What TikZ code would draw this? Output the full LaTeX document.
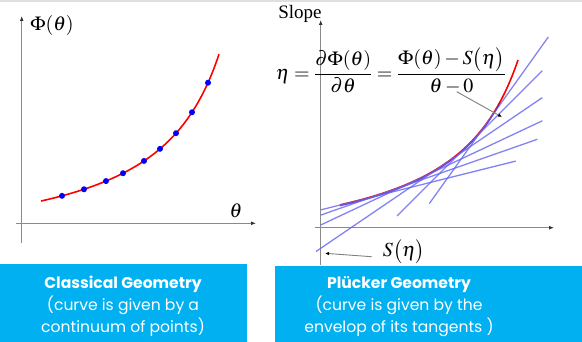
\documentclass[tikz,border=0pt]{standalone}
\usepackage{mathptmx}
\usepackage{fontspec}
\setmainfont{Liberation Serif}
\newfontfamily\boxfont{Poppins}
\usetikzlibrary{arrows.meta}
\definecolor{boxblue}{HTML}{00B0F0}
\definecolor{tanblue}{HTML}{6464F2}
\definecolor{axisgray}{HTML}{8A8A8A}
\begin{document}
\begin{tikzpicture}[x=1pt,y=-1pt,
  axisline/.style={draw=axisgray, line width=1.3pt, -{Latex[length=5pt,width=4pt,color=black!80]}},
  tangent/.style={draw=tanblue, opacity=0.8, line width=1.3pt},
  curveline/.style={draw=red, line width=1.6pt},
  pointer/.style={draw=gray, line width=0.9pt, -{Latex[length=4pt,width=3.5pt,color=black]}},
  mathlabel/.style={inner sep=0pt, font=\fontsize{20}{24}\selectfont},
  box/.style={fill=boxblue, draw=none},
  boxtext/.style={text=white, align=center, font=\boxfont\fontsize{15.6}{22}\selectfont, inner sep=0pt}]
\useasboundingbox (0,0) rectangle (582,342);
\fill[white] (0,0) rectangle (582,342);
\draw[gray!25, line width=1.5pt] (0,1) -- (582,1);

% ---------- left panel ----------
\coordinate (lyb) at (21.7,243);
\coordinate (lyt) at (21.7,16);
\coordinate (lxl) at (16,223.3);
\coordinate (lxr) at (256,223.3);
\draw[axisline] (lyb) -- (lyt);
\draw[axisline] (lxl) -- (lxr);
\node[mathlabel] (lphi) at (52,26) {$\Phi(\theta)$};
\node[mathlabel] (ltheta) at (236,211) {$\theta$};
\draw[curveline] plot[domain=41:219, samples=80, smooth] (\x, {224-(13540/(265-(\x-21))-32.3)});
\foreach \xx [count=\i] in {62,84,106,123,144,160,176,192,208}
  \fill[blue] (\xx, {224-(13540/(265-(\xx-21))-32.3)}) circle (3pt);

% ---------- right panel ----------
\coordinate (ryb) at (320.7,265);
\coordinate (ryt) at (320.7,20);
\coordinate (rxl) at (315,227.7);
\coordinate (rxr) at (554,227.7);
\draw[axisline] (ryb) -- (ryt);
\draw[axisline] (rxl) -- (rxr);
\node[inner sep=0pt, font=\fontsize{19}{22}\selectfont] (slope) at (300,14) {Slope};
\node[mathlabel] (formula) at (391,71) {$\displaystyle \eta=\frac{\partial\Phi(\theta)}{\partial\theta}=\frac{\Phi(\theta)-S\bigl(\eta\bigr)}{\theta-0}$};
\draw[curveline] plot[domain=340:518, samples=80, smooth] (\x, {227.7-(13540/(265-(\x-320.7))-32.3)});
\draw[draw=blue, opacity=0.55, line width=1.1pt] plot[domain=340:500, samples=60, smooth] (\x, {228.7-(13540/(265-(\x-320.7))-32.3)});
% tangents
\draw[tangent] (320.7,209.9) -- (515.7,161.1);
\draw[tangent] (320.7,215.1) -- (537.3,139.3);
\draw[tangent] (320.7,225.0) -- (542.3,120.8);
\draw[tangent] (316,251.5) -- (542.3,97.6);
\draw[tangent] (397,216) -- (542.3,70.7);
\draw[tangent] (429.3,203.6) -- (548.3,37);
% pointers
\coordinate (p1s) at (456.7,91.7);
\coordinate (p1e) at (502,117);
\draw[pointer] (p1s) -- (p1e);
\node[mathlabel] (seta) at (404,252) {$S\bigl(\eta\bigr)$};
\coordinate (p2s) at (371.7,256.7);
\coordinate (p2e) at (325,253.3);
\draw[pointer] (p2s) -- (p2e);

% ---------- boxes ----------
\path[box] (0,264) rectangle (247,342);
\path[box] (275,266) rectangle (582,342);
\node[boxtext] (ltext) at (123,306.5) {{\bfseries Classical Geometry}\\(curve is given by a\\continuum of points)};
\node[boxtext] (rtext) at (399,306.5) {{\bfseries Plücker Geometry}\\(curve is given by the\\envelop of its tangents )};
\end{tikzpicture}
\end{document}
